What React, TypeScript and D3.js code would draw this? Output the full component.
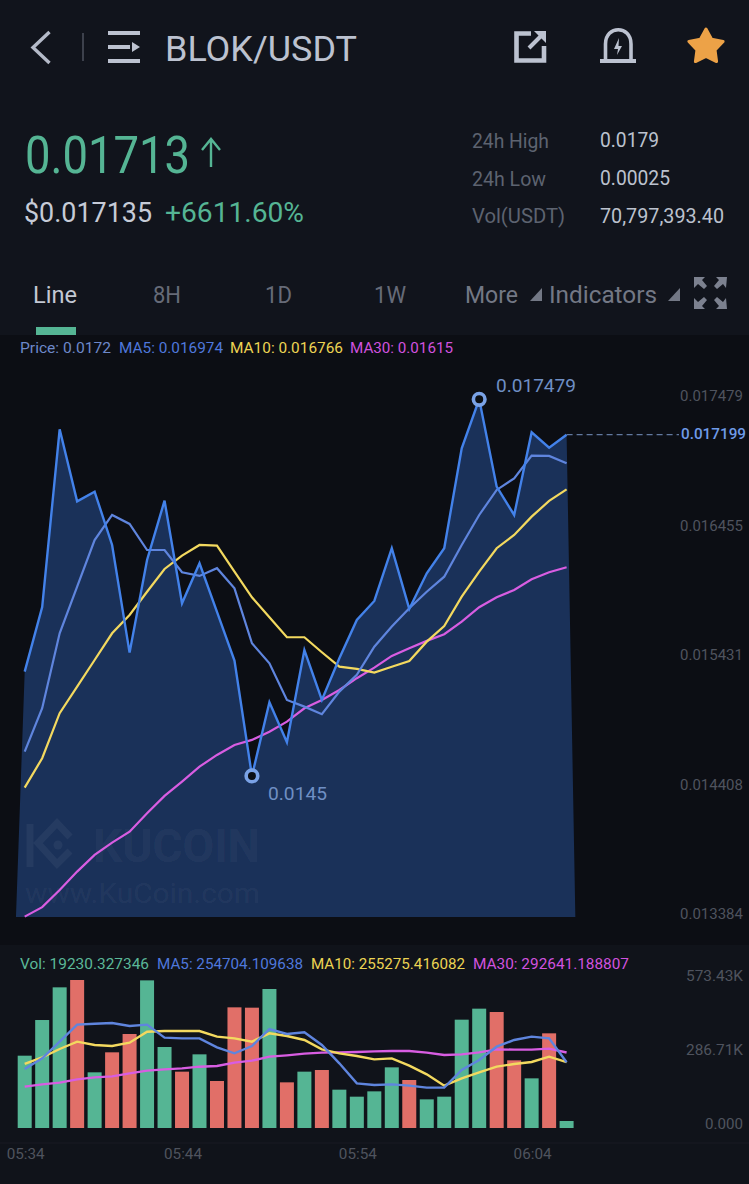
/**
 * BLOK/USDT market screen
 * Price line with moving averages and a volume panel, drawn with D3 scales
 */

import * as d3 from 'd3';

const prices = [
  0.015325, 0.015836, 0.017242, 0.016672, 0.016748, 0.016327, 0.015475, 0.016208,
  0.016677, 0.015866, 0.016182, 0.015797, 0.015413, 0.0145, 0.015083, 0.014766,
  0.015496, 0.015101, 0.015431, 0.015734, 0.015884, 0.016301, 0.015821, 0.016103,
  0.016301, 0.017091, 0.017479, 0.016788, 0.016564, 0.017218, 0.017096, 0.017199,
];
const priceMa5 = [
  0.014692, 0.015035, 0.015628, 0.015997, 0.016366, 0.016564, 0.016493, 0.016287,
  0.016287, 0.016111, 0.016082, 0.016143, 0.015984, 0.015549, 0.015391, 0.015101,
  0.015048, 0.014988, 0.015167, 0.015299, 0.015522, 0.015681, 0.015826, 0.015957,
  0.016076, 0.016327, 0.016564, 0.016762, 0.016854, 0.017033, 0.017031, 0.016974,
];
const priceMa10 = [
  0.014407, 0.01464, 0.014996, 0.015206, 0.015417, 0.015628, 0.015773, 0.015957,
  0.016137, 0.016242, 0.016327, 0.016321, 0.016116, 0.015913, 0.015755, 0.015597,
  0.015597, 0.015478, 0.015364, 0.015346, 0.015317, 0.015364, 0.015409, 0.015562,
  0.015686, 0.015918, 0.016116, 0.016301, 0.016406, 0.016551, 0.016675, 0.016766,
];
const priceMa30 = [
  0.013387, 0.013462, 0.013598, 0.013743, 0.013875, 0.013972, 0.014059, 0.014205,
  0.014342, 0.014455, 0.014573, 0.014666, 0.014745, 0.014785, 0.01485, 0.014929,
  0.015035, 0.015101, 0.01518, 0.015273, 0.015356, 0.015449, 0.01551, 0.015568,
  0.015621, 0.01572, 0.015834, 0.015913, 0.015971, 0.016055, 0.016111, 0.01615,
];

const volumes = [
  280200, 418400, 545000, 573430, 215700, 293200, 364200, 572000,
  313800, 218300, 285400, 182100, 467500, 466200, 538600, 176900,
  218300, 224700, 148500, 121400, 142000, 235000, 186000, 111000,
  121400, 419700, 462400, 449400, 262200, 192400, 366800, 19230,
];
const volMa5 = [
  228600, 269900, 334500, 400400, 404200, 406800, 395200, 400400,
  350000, 347400, 347400, 312500, 289300, 317700, 383600, 364200,
  370700, 321600, 250600, 173100, 166600, 169200, 164000, 156300,
  156300, 224700, 263500, 315100, 341000, 353900, 347400, 254704,
];
const volMa10 = [
  248000, 273800, 306100, 334500, 321600, 317700, 330600, 373200,
  375800, 375800, 375800, 353900, 347400, 334500, 366800, 356500,
  341000, 304800, 289300, 279000, 266000, 269900, 241500, 207900,
  164000, 192400, 215700, 237600, 248000, 255700, 276400, 255275,
];
const volMa30 = [
  160100, 169200, 175600, 188600, 196300, 200200, 211800, 222100,
  227300, 231200, 237600, 240200, 253100, 260900, 276400, 281500,
  288000, 291900, 293200, 294500, 297000, 298300, 298300, 291900,
  282800, 285400, 293200, 304800, 303500, 303500, 307400, 292641,
];

const priceTicks = [0.017479, 0.016455, 0.015431, 0.014408, 0.013384];
const volTicks = [
  { value: 573430, label: '573.43K' },
  { value: 286710, label: '286.71K' },
  { value: 0, label: '0.000' },
];
const timeTicks = [
  { index: 0, label: '05:34' },
  { index: 9, label: '05:44' },
  { index: 19, label: '05:54' },
  { index: 29, label: '06:04' },
];

const GREEN = '#55b594';
const RED = '#e16f68';
const PRICE_BLUE = '#4382ea';
const MA5_BLUE = '#5f85de';
const YELLOW = '#f3d95f';
const MAGENTA = '#d85de2';
const FONT = 'Roboto, sans-serif';

const x = d3.scaleLinear().domain([0, 31]).range([24.7, 566.6]);
const yPrice = d3.scaleLinear().domain([0.013384, 0.017479]).range([917, 399.3]);
const yVol = d3.scaleLinear().domain([0, 573430]).range([1128, 980]);

const priceLine = d3.line<number>().x((_, i) => x(i)).y(d => yPrice(d));
const volLine = d3.line<number>().x((_, i) => x(i)).y(d => yVol(d));

// The fill runs half a step past both ends of the line
const areaPath = d3.line<[number, number]>().x(d => x(d[0])).y(d => yPrice(d[1]))([
  [-0.5, priceTicks[4]],
  ...prices.map((p, i): [number, number] => [i, p]),
  [31.5, priceTicks[4]],
]);

const starPath = d3.lineRadial<number>()
  .angle((_, i) => (i * Math.PI) / 5)
  .radius((_, i) => (i % 2 ? 9.5 : 18))
  .curve(d3.curveLinearClosed)(d3.range(10));

function Label({ x: lx, y, w, size, fill, anchor = 'start', weight = 400, children }: any) {
  return (
    <text
      x={lx}
      y={y}
      fontSize={size}
      fill={fill}
      fontFamily={FONT}
      fontWeight={weight}
      textAnchor={anchor}
      textLength={w}
      lengthAdjust="spacingAndGlyphs"
    >
      {children}
    </text>
  );
}

function Header() {
  const iconColor = '#bcc2d0';
  return (
    <g>
      <path d="M49.5,32 L33,47.5 L49.5,63" fill="none" stroke="#b4bac8" strokeWidth={3.4} />
      <rect x={82} y={33} width={2} height={28} fill="#3d414c" />
      <path
        d="M108,31h32v4h-32z M108,45h22v4h-22z M108,59h32v4h-32z M132,42l8,5l-8,5z"
        fill={iconColor}
      />
      <Label x={165} y={61} w={192} size={35} fill={iconColor}>BLOK/USDT</Label>
      <path
        d="M531,33.5 H516.5 V60.5 H544 V46"
        fill="none"
        stroke={iconColor}
        strokeWidth={4.6}
      />
      <path d="M529,48 L541,36" fill="none" stroke={iconColor} strokeWidth={4} />
      <path d="M534,31 H546 V43 Z" fill={iconColor} />
      <path
        d="M605.5,60 V44 C605.5,25 631,25 631,44 V60"
        fill="none"
        stroke={iconColor}
        strokeWidth={3.6}
      />
      <rect x={600} y={59} width={36} height={4} fill={iconColor} />
      <path d="M619,38 L614,49 H618 L617,55 L622,46 H618.5 Z" fill={iconColor} />
      <path d={starPath ?? ''} transform="translate(706,47)" fill="#eda247" stroke="#eda247" strokeWidth={3} strokeLinejoin="round" />

      <Label x={25} y={173} w={165} size={52} fill={GREEN}>0.01713</Label>
      <path d="M211,167 V140 M202,150 L211,139 L220,150" fill="none" stroke={GREEN} strokeWidth={2.4} />
      <Label x={24} y={222} w={128} size={28} fill="#c6cbd7">$0.017135</Label>
      <Label x={165} y={222} w={139} size={28} fill={GREEN}>+6611.60%</Label>

      <Label x={472} y={148} w={77} size={21} fill="#5d6370">24h High</Label>
      <Label x={472} y={186} w={74} size={21} fill="#5d6370">24h Low</Label>
      <Label x={472} y={223} w={93} size={21} fill="#5d6370">Vol(USDT)</Label>
      <Label x={600} y={147} w={59} size={20} fill="#bcc2ce">0.0179</Label>
      <Label x={600} y={185} w={70} size={20} fill="#bcc2ce">0.00025</Label>
      <Label x={600} y={223} w={124} size={20} fill="#bcc2ce">70,797,393.40</Label>

      <Label x={33} y={303} w={44} size={23} fill="#c3c8d3">Line</Label>
      <Label x={153} y={303} w={28} size={23} fill="#666b78">8H</Label>
      <Label x={265} y={303} w={27} size={23} fill="#666b78">1D</Label>
      <Label x={374} y={303} w={32} size={23} fill="#666b78">1W</Label>
      <Label x={465} y={303} w={53} size={23} fill="#737885">More</Label>
      <path d="M530,301 L542,301 L542,288 Z" fill="#737885" />
      <Label x={549} y={303} w={108} size={23} fill="#737885">Indicators</Label>
      <path d="M668,301 L680,301 L680,288 Z" fill="#737885" />
      <path
        d="M694,277h11l-3,3l5,6l-3,3l-6,-5l-4,4z M727,277h-11l3,3l-5,6l3,3l6,-5l3,4z M694,309h11l-3,-3l5,-6l-3,-3l-6,5l-4,-4z M727,309h-11l3,-3l-5,-6l3,-3l6,5l3,-4z"
        fill="#7c818f"
      />
      <rect x={36} y={327} width={40} height={8} fill={GREEN} />
    </g>
  );
}

function Watermark() {
  const c = 'rgba(255,255,255,0.05)';
  return (
    <g>
      <path
        d="M30,824 V867 M70,837 L57,823 L38,843 L57,864 L70,851"
        fill="none"
        stroke={c}
        strokeWidth={7}
      />
      <circle cx={58} cy={845} r={4.5} fill={c} />
      <Label x={93} y={862} w={167} size={46} fill={c} weight={700}>KUCOIN</Label>
      <Label x={25} y={903} w={235} size={27} fill={c}>www.KuCoin.com</Label>
    </g>
  );
}

function PricePanel() {
  const maxI = prices.indexOf(d3.max(prices) as number);
  const minI = prices.indexOf(d3.min(prices) as number);
  const lastY = yPrice(prices[31]);
  return (
    <g>
      <rect x={0} y={335} width={749} height={610} fill="#0c0e14" />
      <Label x={20} y={353} w={91} size={14} fill="#6d88c9">Price: 0.0172</Label>
      <Label x={119} y={353} w={104} size={14} fill="#4f78dc">MA5: 0.016974</Label>
      <Label x={230} y={353} w={113} size={14} fill="#ecd453">MA10: 0.016766</Label>
      <Label x={350} y={353} w={103} size={14} fill="#d052df">MA30: 0.01615</Label>

      <path d={areaPath ?? ''} fill="#1a3159" />
      <Watermark />

      <path d={priceLine(priceMa30) ?? ''} fill="none" stroke={MAGENTA} strokeWidth={2.2} />
      <path d={priceLine(priceMa10) ?? ''} fill="none" stroke={YELLOW} strokeWidth={2.2} />
      <path d={priceLine(priceMa5) ?? ''} fill="none" stroke={MA5_BLUE} strokeWidth={2.2} />
      <path d={priceLine(prices) ?? ''} fill="none" stroke={PRICE_BLUE} strokeWidth={2.4} />

      {[maxI, minI].map(i => (
        <circle key={i} cx={x(i)} cy={yPrice(prices[i])} r={5.8} fill="#0b0e14" stroke="#7aa2e6" strokeWidth={3.6} />
      ))}
      <Label x={496} y={392} w={80} size={19} fill="#6f8fc4">0.017479</Label>
      <Label x={268} y={800} w={59} size={19} fill="#6f8fc4">0.0145</Label>

      <line x1={x(31)} x2={679} y1={lastY} y2={lastY} stroke="#62789f" strokeWidth={1.2} strokeDasharray="6 4" />
      {priceTicks.map(t => (
        <Label key={t} x={743} y={yPrice(t) + 2} w={63} size={14} fill="#4f535e" anchor="end">
          {t.toFixed(6)}
        </Label>
      ))}
      <Label x={746} y={lastY + 4} w={65} size={14} fill="#6f9be8" anchor="end" weight={500}>0.017199</Label>
    </g>
  );
}

function VolumePanel() {
  return (
    <g>
      <rect x={0} y={945} width={749} height={239} fill="#10131a" />
      <line x1={0} x2={749} y1={1143} y2={1143} stroke="#181b23" />
      <Label x={20} y={969} w={129} size={14} fill="#5bb898">Vol: 19230.327346</Label>
      <Label x={157} y={969} w={146} size={14} fill="#4f78dc">MA5: 254704.109638</Label>
      <Label x={311} y={969} w={154} size={14} fill="#ecd453">MA10: 255275.416082</Label>
      <Label x={473} y={969} w={156} size={14} fill="#d052df">MA30: 292641.188807</Label>

      {volumes.map((v, i) => {
        // Closing up draws green, closing down draws red; very small bars keep a minimum height
        const up = i === 0 || prices[i] >= prices[i - 1];
        const h = Math.max(7, yVol(0) - yVol(v));
        return <rect key={i} x={x(i) - 7} y={yVol(0) - h} width={14} height={h} fill={up ? GREEN : RED} />;
      })}

      <path d={volLine(volMa30) ?? ''} fill="none" stroke={MAGENTA} strokeWidth={2.4} />
      <path d={volLine(volMa10) ?? ''} fill="none" stroke={YELLOW} strokeWidth={2.4} />
      <path d={volLine(volMa5) ?? ''} fill="none" stroke={MA5_BLUE} strokeWidth={2.4} />

      {volTicks.map(t => (
        <Label key={t.label} x={743} y={yVol(t.value) + 1} w={t.label.length === 7 ? 57 : 38} size={14} fill="#4f535e" anchor="end">
          {t.label}
        </Label>
      ))}
      {timeTicks.map(t => (
        <Label key={t.label} x={x(t.index) + 1} y={1159} w={38} size={14} fill="#4f535e" anchor="middle">
          {t.label}
        </Label>
      ))}
    </g>
  );
}

export default function App() {
  return (
    <svg
      width={749}
      height={1184}
      viewBox="0 0 749 1184"
      style={{ position: 'absolute', left: 0, top: 0, display: 'block' }}
    >
      <rect width={749} height={1184} fill="#11141c" />
      <Header />
      <PricePanel />
      <VolumePanel />
    </svg>
  );
}
